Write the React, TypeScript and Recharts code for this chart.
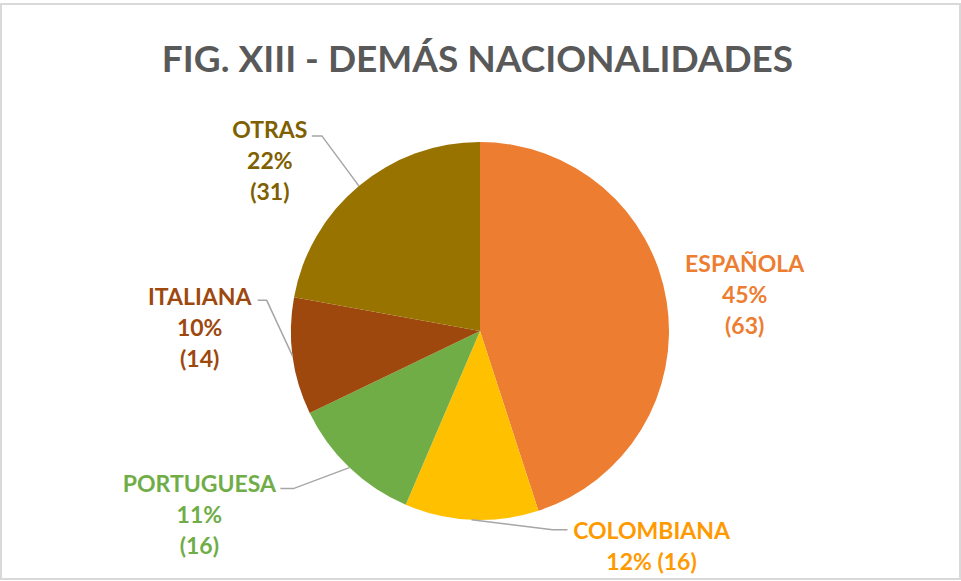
import React from 'react';
import { PieChart, Pie, Cell } from 'recharts';

const categories = ['ESPAÑOLA', 'COLOMBIANA', 'PORTUGUESA', 'ITALIANA', 'OTRAS'];
const counts = [63, 16, 16, 14, 31];
const percentLabels = ['45%', '12%', '11%', '10%', '22%'];
const sliceColors = ['#ED7D31', '#FFC000', '#70AD47', '#9E480E', '#997300'];
const labelColors = ['#ED7D31', '#FF9900', '#70AD47', '#9E480E', '#7F6000'];

const data = categories.map((name, i) => ({ name, value: counts[i] }));

const FONT = 'Lato, "Open Sans", sans-serif';
const LABEL_SIZE = 23;
const LINE_GAP = 31;

// label placement relative to the slice's outer edge point (Excel best-fit look)
type Layout = { text: [number, number]; elbow?: [number, number]; end?: [number, number]; compact?: boolean };
const labelLayout: Layout[] = [
  { text: [78, -38] },
  { text: [180, 11], elbow: [81, 10], end: [96, 10], compact: true },
  { text: [-150, 16], elbow: [-56, 21], end: [-69, 21] },
  { text: [-93, -60], elbow: [-26, -56], end: [-35, -56] },
  { text: [-89, -56], elbow: [-37, -50], end: [-47, -50] },
];

const RADIAN = Math.PI / 180;

const renderLabel = (props: any) => {
  const { cx, cy, midAngle, outerRadius, index } = props;
  const ex = cx + outerRadius * Math.cos(-midAngle * RADIAN);
  const ey = cy + outerRadius * Math.sin(-midAngle * RADIAN);
  const lay = labelLayout[index];
  const lines = lay.compact
    ? [categories[index], `${percentLabels[index]} (${counts[index]})`]
    : [categories[index], percentLabels[index], `(${counts[index]})`];
  const tx = ex + lay.text[0];
  const ty = ey + lay.text[1];
  return (
    <g key={`lbl-${index}`}>
      {lay.elbow && lay.end && (
        <polyline
          points={`${ex},${ey} ${ex + lay.elbow[0]},${ey + lay.elbow[1]} ${ex + lay.end[0]},${ey + lay.end[1]}`}
          fill="none"
          stroke="#A6A6A6"
          strokeWidth={1.5}
        />
      )}
      {lines.map((ln, k) => (
        <text
          key={k}
          x={tx}
          y={ty + k * LINE_GAP + LABEL_SIZE * 0.36}
          textAnchor="middle"
          fill={labelColors[index]}
          fontFamily={FONT}
          fontWeight={700}
          fontSize={LABEL_SIZE}
        >
          {ln}
        </text>
      ))}
    </g>
  );
};

export default function App() {
  return (
    <div style={{ position: 'absolute', left: 0, top: 0, width: 961, height: 581, background: '#fff' }}>
      <div
        style={{
          position: 'absolute',
          left: 0,
          top: 3,
          width: 957,
          height: 573,
          border: '2px solid #D9D9D9',
        }}
      />
      <div
        style={{
          position: 'absolute',
          left: 0,
          top: 30,
          width: 955,
          textAlign: 'center',
          fontFamily: FONT,
          fontWeight: 700,
          fontSize: 37,
          lineHeight: '56px',
          color: '#595959',
        }}
      >
        FIG. XIII - DEMÁS NACIONALIDADES
      </div>
      <div style={{ position: 'absolute', left: 0, top: 0 }}>
        <PieChart width={961} height={581} margin={{ top: 0, right: 0, bottom: 0, left: 0 }}>
          <Pie
            data={data}
            dataKey="value"
            nameKey="name"
            cx={480}
            cy={331}
            outerRadius={189}
            startAngle={90}
            endAngle={-270}
            stroke="none"
            label={renderLabel}
            labelLine={false}
            isAnimationActive={false}
          >
            {data.map((d, i) => (
              <Cell key={d.name} fill={sliceColors[i]} />
            ))}
          </Pie>
        </PieChart>
      </div>
    </div>
  );
}
